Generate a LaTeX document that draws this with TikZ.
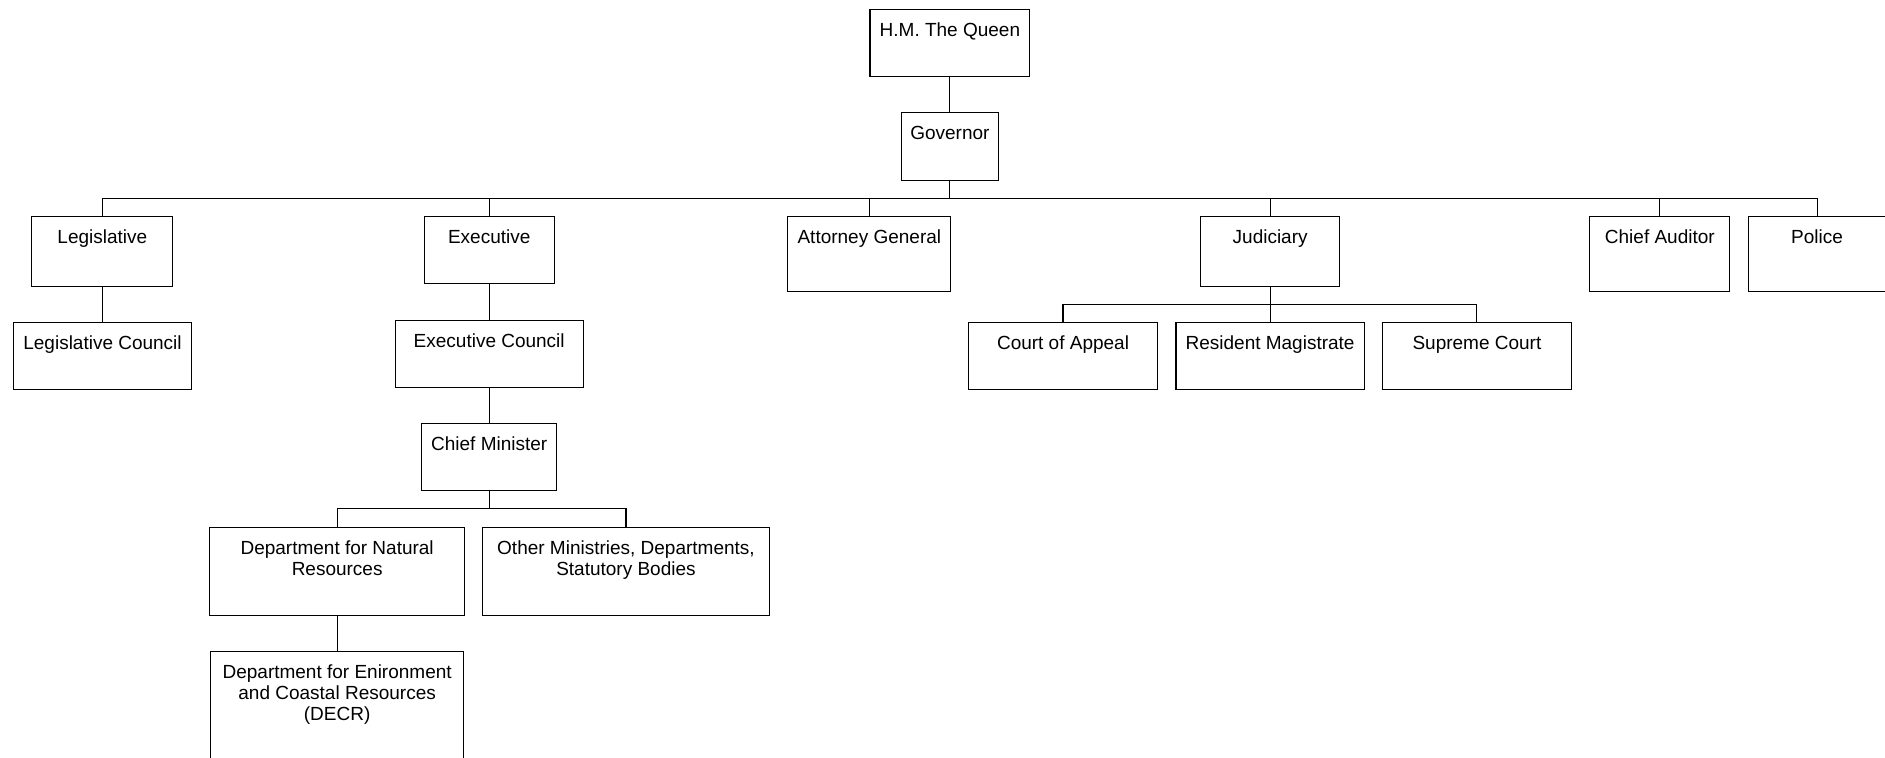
\documentclass[tikz,border=0pt]{standalone}
\usepackage{fontspec}
\setmainfont{Liberation Sans}
\newcommand\topstrut{\rule{0pt}{6.5pt}}
\tikzset{
  box/.style={draw=black, line width=0.45pt, rectangle, inner sep=0pt, anchor=north west},
  lbl/.style={inner sep=0pt, anchor=north, align=center, font=\fontsize{7.9}{8.75}\selectfont},
  link/.style={draw=black, line width=0.45pt}
}
% \bx{name}{x1}{y1}{x2}{y2}{text}
\newcommand\bx[6]{%
  \node[box, minimum width={(#4-#2)*0.5pt}, minimum height={(#5-#3)*0.5pt}] (#1) at (#2,#3) {};
  \node[lbl] (#1t) at ([yshift=-4.65pt]#1.north) {\topstrut #6};
}
\begin{document}
\begin{tikzpicture}[x=0.5pt, y=-0.5pt]
\clip (0,0) rectangle (1568,630);
\fill[white] (0,0) rectangle (1568,630);
\bx{queen}{723.2}{7.8}{856.2}{63.2}{H.M. The Queen}
\bx{gov}{749.2}{93.5}{830.2}{149.7}{Governor}
\bx{leg}{26}{179.8}{143.4}{238.2}{Legislative}
\bx{exe}{352.3}{179.8}{460.7}{235.5}{Executive}
\bx{ag}{654.9}{179.8}{790.5}{242}{Attorney General}
\bx{jud}{998.2}{179.8}{1114}{238.2}{Judiciary}
\bx{aud}{1322}{179.8}{1438.5}{242}{Chief Auditor}
\bx{pol}{1453.7}{179.8}{1568.3}{242}{Police}
\bx{legc}{10.5}{268.1}{159.2}{323.9}{Legislative Council}
\bx{exec}{328.2}{266.2}{484.8}{321.7}{Executive Council}
\bx{coa}{805.4}{268.1}{962.2}{323.9}{Court of Appeal}
\bx{rm}{977.8}{268.1}{1134.3}{323.9}{Resident Magistrate}
\bx{sc}{1149.8}{268.1}{1306.4}{323.9}{Supreme Court}
\bx{cm}{350.4}{352.1}{462.6}{407.9}{Chief Minister}
\bx{dnr}{174}{438.6}{386}{511.6}{Department for Natural\\Resources}
\bx{oth}{401.2}{438.6}{639.3}{511.6}{Other Ministries, Departments,\\Statutory Bodies}
\bx{decr}{175}{541.8}{385}{660}{Department for Enironment\\and Coastal Resources\\(DECR)}
% connector junction points, aligned under their parent nodes
\coordinate (busy) at (0,164.8);
\coordinate (jbusy) at (0,253.5);
\coordinate (cbusy) at (0,423.2);
\coordinate (bus) at (gov.south |- busy);
\coordinate (jbus) at (jud.south |- jbusy);
\coordinate (cbus) at (cm.south |- cbusy);
\draw[link] (queen.south) -- (queen.south |- gov.north);
\draw[link] (gov.south) -- (bus);
\draw[link] (bus) -| (leg.north);
\draw[link] (bus) -| (exe.north);
\draw[link] (bus) -| (ag.north);
\draw[link] (bus) -| (jud.north);
\draw[link] (bus) -| (aud.north);
\draw[link] (bus) -| (pol.north);
\draw[link] (leg.south) -- (leg.south |- legc.north);
\draw[link] (exe.south) -- (exe.south |- exec.north);
\draw[link] (exec.south) -- (exec.south |- cm.north);
\draw[link] (jud.south) -- (jbus);
\draw[link] (jbus) -| (coa.north);
\draw[link] (jbus) -| (rm.north);
\draw[link] (jbus) -| (sc.north);
\draw[link] (cm.south) -- (cbus);
\draw[link] (cbus) -| (dnr.north);
\draw[link] (cbus) -| (oth.north);
\draw[link] (dnr.south) -- (dnr.south |- decr.north);
\end{tikzpicture}
\end{document}
